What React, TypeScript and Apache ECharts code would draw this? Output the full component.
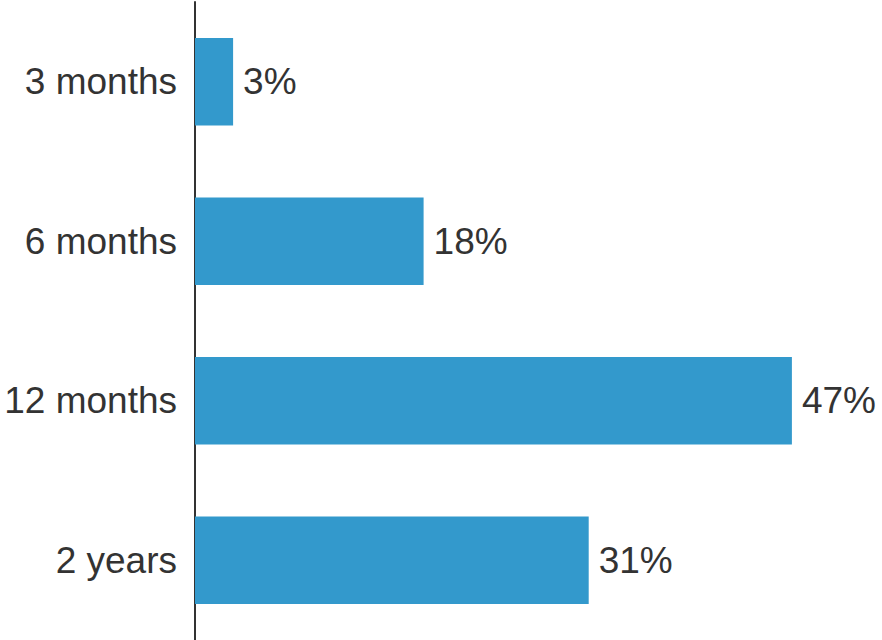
import React, { useEffect, useRef } from "react";
import * as echarts from "echarts";

const categories = ["3 months", "6 months", "12 months", "2 years"];
const values = [3, 18, 47, 31];

export default function App() {
  const ref = useRef<HTMLDivElement>(null);
  useEffect(() => {
    if (!ref.current) return;
    const chart = echarts.init(ref.current, undefined, { renderer: "svg" });
    chart.setOption({
      animation: false,
      grid: {
        left: 195,
        top: 2,
        width: 635,
        height: 638,
        containLabel: false,
        outerBoundsMode: "none",
      },
      xAxis: {
        type: "value",
        min: 0,
        max: 50,
        show: false,
      },
      yAxis: {
        type: "category",
        data: categories,
        inverse: true,
        axisLine: { show: true, lineStyle: { color: "#333333", width: 2 } },
        axisTick: { show: false },
        axisLabel: {
          color: "#333333",
          fontSize: 37,
          fontFamily: "'Liberation Sans', Arial, sans-serif",
          margin: 18,
        },
        splitLine: { show: false },
      },
      series: [
        {
          type: "bar",
          data: values,
          barCategoryGap: "45%",
          itemStyle: { color: "#3399cc" },
          label: {
            show: true,
            position: "right",
            distance: 10,
            formatter: "{c}%",
            color: "#333333",
            fontSize: 37,
            fontFamily: "'Liberation Sans', Arial, sans-serif",
          },
        },
      ],
    });
    return () => chart.dispose();
  }, []);
  return (
    <div
      ref={ref}
      style={{ position: "absolute", left: 0, top: 0, width: 882, height: 640 }}
    />
  );
}
